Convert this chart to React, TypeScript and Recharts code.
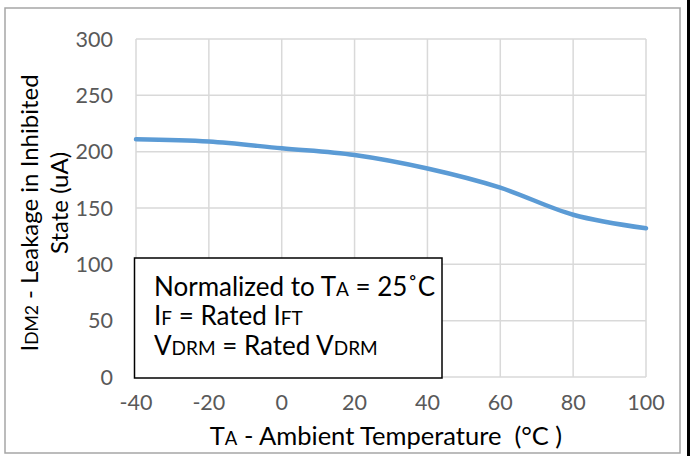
import React from 'react';
import { LineChart, Line, XAxis, YAxis, CartesianGrid } from 'recharts';

const temperatures = [-40, -20, 0, 20, 40, 60, 80, 100];
const leakage = [211, 209, 203, 197, 185, 168, 144, 132];
const xTicks = [-40, -20, 0, 20, 40, 60, 80, 100];
const yTicks = [0, 50, 100, 150, 200, 250, 300];

const data = temperatures.map((t, i) => ({ t, v: leakage[i] }));

const FONT = 'Lato, "Open Sans", sans-serif';
const W = 690;
const H = 456;

const XTick = (props: any) => {
  const { x, y, payload } = props;
  return (
    <text x={x} y={y} dy={27} textAnchor="middle" fill="#595959" fontSize={21.5} fontFamily={FONT}>
      {payload.value}
    </text>
  );
};

const YTick = (props: any) => {
  const { x, y, payload } = props;
  return (
    <text x={x} y={y} dy={7.5} textAnchor="end" fill="#595959" fontSize={21.5} fontFamily={FONT}>
      {payload.value}
    </text>
  );
};

export default function App() {
  return (
    <div style={{ position: 'absolute', left: 0, top: 0, width: W, height: H, background: '#fff' }}>
      <LineChart
        width={W}
        height={H}
        data={data}
        margin={{ top: 39, right: 44, bottom: 39, left: 76 }}
      >
        <CartesianGrid stroke="#d9d9d9" strokeWidth={1.5} />
        <XAxis
          dataKey="t"
          type="number"
          domain={[-40, 100]}
          ticks={xTicks}
          axisLine={false}
          tickLine={false}
          height={40}
          tickMargin={0}
          tick={<XTick />}
          interval={0}
        />
        <YAxis
          type="number"
          domain={[0, 300]}
          ticks={yTicks}
          axisLine={false}
          tickLine={false}
          width={60}
          tickMargin={17}
          tick={<YTick />}
          interval={0}
        />
        <Line
          dataKey="v"
          type="monotone"
          stroke="#5b9bd5"
          strokeWidth={4.5}
          strokeLinecap="round"
          dot={false}
          isAnimationActive={false}
        />
      </LineChart>
      <svg
        width={W}
        height={H}
        style={{ position: 'absolute', left: 0, top: 0, pointerEvents: 'none' }}
        fontFamily={FONT}
      >
        <rect x={5} y={8} width={675} height={445} fill="none" stroke="#a6a6a6" strokeWidth={1.5} />
        <rect x={687} y={0} width={3} height={H} fill="#000" />
        <rect x={134.5} y={258} width={307.5} height={120} fill="#fff" stroke="#000" strokeWidth={1.5} />
        <g fontSize={26} fill="#000" style={{ whiteSpace: 'pre' }}>
          <text x={154} y={296}>
            Normalized to T<tspan fontSize={19}>A</tspan> = 25˚C
          </text>
          <text x={154} y={325}>
            I<tspan fontSize={19}>F</tspan> = Rated I<tspan fontSize={19}>FT</tspan>
          </text>
          <text x={154} y={355}>
            V<tspan fontSize={19}>DRM</tspan> = Rated V<tspan fontSize={19}>DRM</tspan>
          </text>
        </g>
        <text x={386} y={445} textAnchor="middle" fontSize={25.5} fill="#000" style={{ whiteSpace: 'pre' }}>
          T<tspan fontSize={18.5}>A</tspan> - Ambient Temperature  (°C )
        </text>
        <g fontSize={24} fill="#000" textAnchor="middle">
          <text transform="translate(38,213) rotate(-90)">
            I<tspan fontSize={17.5}>DM2</tspan> - Leakage in Inhibited
          </text>
          <text transform="translate(68,203) rotate(-90)">State (uA)</text>
        </g>
      </svg>
    </div>
  );
}
